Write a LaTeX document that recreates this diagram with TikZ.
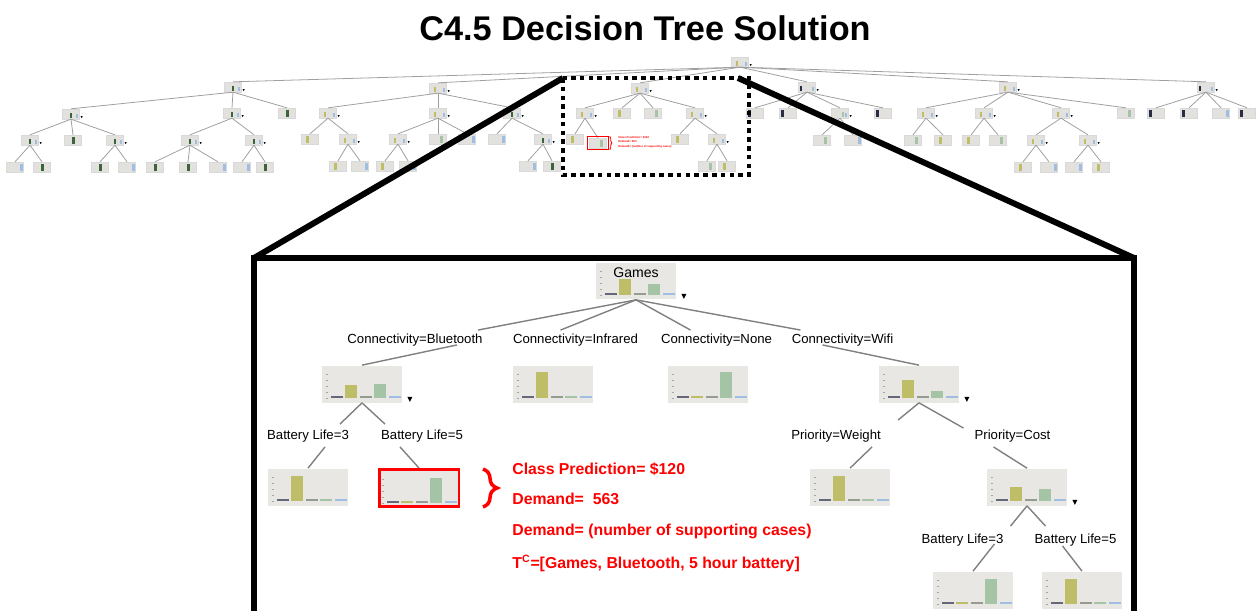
\documentclass[tikz,border=0pt]{standalone}
\usepackage{fontspec}
\setmainfont{Liberation Sans}
\usepackage{xcolor}
\usetikzlibrary{positioning,calc,decorations.pathreplacing}
\definecolor{boxgray}{RGB}{233, 231, 227}
\definecolor{minigray}{RGB}{226, 225, 222}
\definecolor{barslate}{RGB}{100, 104, 120}
\definecolor{barolive}{RGB}{190, 190, 105}
\definecolor{bargray}{RGB}{150, 155, 145}
\definecolor{barsage}{RGB}{165, 196, 165}
\definecolor{barblue}{RGB}{160, 190, 225}
\definecolor{minigreen}{RGB}{60, 100, 60}
\definecolor{mininavy}{RGB}{40, 45, 70}
\definecolor{edgegray}{RGB}{128, 128, 128}
\tikzset{
  histbox/.style={
    fill=boxgray,
    minimum width=1.6cm,
    minimum height=0.74cm,
    inner sep=0pt
  },
  splitlabel/.style={
    font=\fontsize{7.5}{9}\selectfont,
    inner sep=0pt,
    text height=6pt,
    text depth=1.5pt
  },
  treeedge/.style={
    draw=edgegray,
    line width=0.8pt
  },
  tickmark/.style={
    draw=gray!70,
    line width=0.3pt
  },
  minibox/.style={
    fill=minigray,
    draw=gray!30,
    line width=0.2pt,
    minimum width=0.34cm,
    minimum height=0.2cm,
    inner sep=0pt
  },
  miniedge/.style={
    draw=gray!75,
    line width=0.45pt
  },
  zoomline/.style={
    line width=3.4pt,
    draw=black
  },
  zoomdots/.style={
    line width=2.4pt,
    draw=black,
    dash pattern=on 2.6pt off 2.4pt
  },
  predtext/.style={
    text=red,
    font=\fontsize{9}{11}\selectfont\bfseries,
    inner sep=0pt,
    anchor=west
  }
}
% bars of a class histogram inside a histbox node
\newcommand{\histbars}[6]{%
  \foreach \t in {0,...,4}
    \draw[tickmark] ($(#1.south west)+(4,-5-6*\t)$) -- ++(2.5,0);
  \foreach \h/\c [count=\i from 0] in {#2/barslate,#3/barolive,#4/bargray,#5/barsage,#6/barblue}
    \fill[\c] ($(#1.south west)+(9+14.5*\i,-5)$) rectangle ++(12,-\h);
}
% small expand mark beside a split node
\newcommand{\branchmark}[1]{%
  \fill ($(#1.south east)+(5,-6)$) -- ++(5,0) -- ++(-2.5,5) -- cycle;
}

\begin{document}
\begin{tikzpicture}[x=0.02cm, y=-0.02cm]
  \useasboundingbox (0,0) rectangle (1256,611);

  \node[font=\fontsize{19.5}{23}\selectfont\bfseries] (title) at (645,28) {C4.5 Decision Tree Solution};

  % full tree, shrunk
  \foreach \n/\x/\y/\p/\c in {r/740/62/1/barolive,
      a/233/87/2/minigreen, a1/71/114/2/minigreen, a2/232/113/2/minigreen, a11/30/140/2/minigreen,
      a13/115/140/2/minigreen, a21/190/140/2/minigreen, a22/254/140/2/minigreen,
      b/438/88/1/barolive, b1/328/113/1/barolive, b2/438/113/1/barolive, b3/512/113/2/minigreen,
      b12/348/139/1/barolive, b21/398/139/1/barolive, b32/543/139/2/minigreen,
      c/640/88/1/barolive, c1/585/113/1/barolive, c4/695/113/1/barolive, c42/717/139/1/barolive,
      d/807/87/0/mininavy, d3/840/113/3/barsage,
      e/1008/87/1/barolive, e1/926/113/1/barolive, e2/984/113/1/barolive, e3/1061/113/1/barolive,
      e31/1036/140/1/barolive, e32/1088/140/1/barolive,
      f/1206/87/0/mininavy} {
    \node[minibox] (\n) at (\x,\y) {};
    \fill[\c] ($(\n.south west)+(2+3*\p,-1)$) rectangle ++(2,-5);
    \fill[barblue] ($(\n.south west)+(14,-1)$) rectangle ++(2,-4);
    \fill ($(\n.south east)+(1,-3)$) -- ++(2,0) -- ++(-1,2) -- cycle;
  }
  \foreach \n/\x/\y/\p/\c in {a3/287/113/2/minigreen, a12/73/140/2/minigreen, a111/15/167/4/barblue,
      a112/42/167/2/minigreen, a131/100/167/2/minigreen, a132/127/167/4/barblue, a211/155/167/2/minigreen,
      a212/188/167/2/minigreen, a213/218/167/4/barblue, a221/242/167/4/barblue, a222/265/167/2/minigreen,
      b11/310/139/1/barolive, b121/338/166/1/barolive, b122/360/166/4/barblue, b22/438/139/3/barsage,
      b23/467/139/4/barblue, b211/385/166/1/barolive, b212/408/166/4/barblue, b31/497/139/4/barblue,
      b321/528/166/4/barblue, b322/552/166/2/minigreen,
      c2/622/113/1/barolive, c3/653/113/3/barsage, c11/575/139/1/barolive, c12/598/143/3/barsage,
      c41/680/139/1/barolive, c421/707/166/3/barsage, c422/727/166/1/barolive,
      d1/755/113/0/mininavy, d2/788/113/0/mininavy, d4/883/113/0/mininavy, d31/822/140/3/barsage,
      d32/853/140/4/barblue,
      e11/913/140/3/barsage, e12/943/140/1/barolive, e21/971/140/1/barolive, e22/998/140/3/barsage,
      e4/1126/113/3/barsage, e311/1023/167/1/barolive, e312/1049/167/4/barblue, e321/1074/167/4/barblue,
      e322/1101/167/1/barolive,
      f1/1156/113/0/mininavy, f2/1189/113/0/mininavy, f3/1221/113/4/barblue, f4/1247/113/0/mininavy} {
    \node[minibox] (\n) at (\x,\y) {};
    \fill[\c] ($(\n.south west)+(2+3*\p,-1)$) rectangle ++(2.2,-7);
  }
  \foreach \p/\q in {r/a, r/b, r/c, r/d, r/e, r/f,
      a/a1, a/a2, a/a3, a1/a11, a1/a12, a1/a13, a11/a111, a11/a112, a13/a131, a13/a132,
      a2/a21, a2/a22, a21/a211, a21/a212, a21/a213, a22/a221, a22/a222,
      b/b1, b/b2, b/b3, b1/b11, b1/b12, b12/b121, b12/b122, b2/b21, b2/b22, b2/b23,
      b21/b211, b21/b212, b3/b31, b3/b32, b32/b321, b32/b322,
      c/c1, c/c2, c/c3, c/c4, c1/c11, c1/c12, c4/c41, c4/c42, c42/c421, c42/c422,
      d/d1, d/d2, d/d3, d/d4, d3/d31, d3/d32,
      e/e1, e/e2, e/e3, e/e4, e1/e11, e1/e12, e2/e21, e2/e22, e3/e31, e3/e32,
      e31/e311, e31/e312, e32/e321, e32/e322,
      f/f1, f/f2, f/f3, f/f4}
    \draw[miniedge] (\p.south) -- (\q.north);

  \draw[red, line width=0.7pt] ($(c12.south west)+(-1.5,1.5)$) rectangle ($(c12.north east)+(1.5,-1.5)$);
  \draw[red, line width=0.5pt, decorate, decoration={brace, amplitude=1.2pt}]
    ($(c12.north east)+(3,-1.5)$) -- ($(c12.south east)+(3,1.5)$);
  \node[text=red, font=\fontsize{1.6}{2.5}\selectfont\bfseries, align=left, inner sep=0pt, anchor=west]
    (minipred) at (618,142) {Class Prediction= \$120\\Demand= 563\\Demand= (number of supporting cases)};

  % zoom window
  \coordinate (dotnw) at (563,78);
  \coordinate (dotse) at (749,175);
  \coordinate (dotne) at (738,78);
  \coordinate (framenw) at (254,258);
  \coordinate (framene) at (1134,258);
  \coordinate (framesw) at (254,625);
  \coordinate (framese) at (1134,625);
  \draw[zoomdots] (dotnw) rectangle (dotse);
  \draw[zoomline] (dotnw) -- (framenw);
  \draw[zoomline] (dotne) -- (framene);
  \draw[zoomline, line join=miter] (framesw) -- (framenw) -- (framene) -- (framese);

  % enlarged subtree
  \node[histbox] (games) at (636,281) {};
  \node[font=\fontsize{8}{9}\selectfont, inner sep=0pt] (gameslab) at (636,273) {Games};

  \node[splitlabel] (btlab) at (415,340) {Connectivity=Bluetooth};
  \node[splitlabel] (irlab) at (575.5,340) {Connectivity=Infrared};
  \node[splitlabel] (nonelab) at (716.5,340) {Connectivity=None};
  \node[splitlabel] (wifilab) at (842.5,340) {Connectivity=Wifi};

  \node[histbox] (bt) at (362,384) {};
  \node[histbox] (ir) at (553,384) {};
  \node[histbox] (none) at (708,384) {};
  \node[histbox] (wifi) at (919,384) {};

  \node[splitlabel] (bl3lab) at (308,436) {Battery Life=3};
  \node[splitlabel] (bl5lab) at (422,436) {Battery Life=5};
  \node[splitlabel] (weightlab) at (836,436) {Priority=Weight};
  \node[splitlabel] (costlab) at (1012.5,436) {Priority=Cost};

  \node[histbox] (bl3) at (308,487) {};
  \node[histbox, draw=red, line width=1.7pt] (bl5) at (419,488) {};
  \node[histbox] (weight) at (850,487) {};
  \node[histbox] (cost) at (1027,487) {};

  \node[splitlabel] (cbl3lab) at (962.5,540) {Battery Life=3};
  \node[splitlabel] (cbl5lab) at (1075.5,540) {Battery Life=5};

  \node[histbox] (cbl3) at (973,590) {};
  \node[histbox] (cbl5) at (1082,590) {};

  \histbars{games}{1.5}{16}{1.5}{11}{1.5}
  \histbars{bt}{1.5}{13}{1.5}{14}{1.5}
  \histbars{ir}{1.5}{26}{1.5}{1.5}{1.5}
  \histbars{none}{1.5}{1.5}{1.5}{26}{1.5}
  \histbars{wifi}{1.5}{18}{1.5}{7}{1.5}
  \histbars{bl3}{1.5}{25}{1.5}{1.5}{1.5}
  \histbars{bl5}{1.5}{1.5}{1.5}{25}{1.5}
  \histbars{weight}{1.5}{25}{1.5}{1.5}{1.5}
  \histbars{cost}{1.5}{14}{1.5}{12}{1.5}
  \histbars{cbl3}{1.5}{1.5}{1.5}{25}{1.5}
  \histbars{cbl5}{1.5}{25}{1.5}{1.5}{1.5}

  \branchmark{games}
  \branchmark{bt}
  \branchmark{wifi}
  \branchmark{cost}

  \draw[treeedge] (games.south) -- ($(btlab.north)+(63,-3)$);
  \draw[treeedge] (games.south) -- ($(irlab.north)+(-15,-3)$);
  \draw[treeedge] (games.south) -- ($(nonelab.north)+(-26,-3)$);
  \draw[treeedge] (games.south) -- ($(wifilab.north)+(-42,-3)$);
  \draw[treeedge] ($(btlab.south)+(42,-2)$) -- (bt.north);
  \draw[treeedge] ($(wifilab.south)+(-20,-2)$) -- (wifi.north);

  \draw[treeedge] (bt.south) -- ($(bl3lab.north)+(32,-5)$);
  \draw[treeedge] (bt.south) -- ($(bl5lab.north)+(-37,-5)$);
  \draw[treeedge] ($(bl3lab.south)+(17,4)$) -- (bl3.north);
  \draw[treeedge] ($(bl5lab.south)+(-22,4)$) -- (bl5.north);

  \draw[treeedge] (wifi.south) -- ($(weightlab.north)+(62,-9)$);
  \draw[treeedge] (wifi.south) -- ($(costlab.north)+(-49,-1)$);
  \draw[treeedge] ($(weightlab.south)+(36,4)$) -- (weight.north);
  \draw[treeedge] ($(costlab.south)+(-19,4)$) -- (cost.north);

  \draw[treeedge] (cost.south) -- ($(cbl3lab.north)+(48,-7)$);
  \draw[treeedge] (cost.south) -- ($(cbl5lab.north)+(-30,-7)$);
  \draw[treeedge] ($(cbl3lab.south)+(32,-3)$) -- (cbl3.north);
  \draw[treeedge] ($(cbl5lab.south)+(-13,-1)$) -- (cbl5.north);

  % prediction for the highlighted leaf
  \coordinate (bracetop) at (483,469);
  \coordinate (bracebot) at (483,507);
  \draw[red, line width=2pt, decorate, decoration={brace, amplitude=8pt, aspect=0.5}] (bracetop) -- (bracebot);

  \node[predtext] (classpred) at (512,469) {Class Prediction= \$120};
  \node[predtext, below=0.6cm of classpred.west, anchor=west] (demand) {Demand=\ \ 563};
  \node[predtext, below=0.65cm of demand.west, anchor=west] (demanddef) {Demand= (number of supporting cases)};
  \node[predtext, below=0.64cm of demanddef.west, anchor=west] (tcover) {T\textsuperscript{C}=[Games, Bluetooth, 5 hour battery]};
\end{tikzpicture}
\end{document}
